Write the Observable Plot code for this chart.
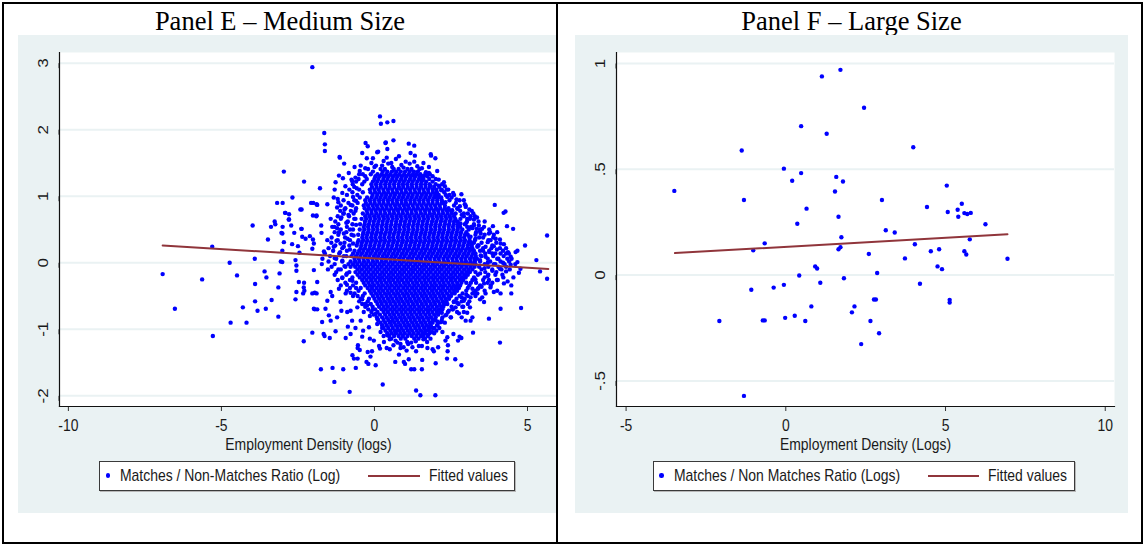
<!DOCTYPE html>
<html>
<head>
<meta charset="utf-8">
<script src="https://cdn.jsdelivr.net/npm/d3@7"></script>
<script src="https://cdn.jsdelivr.net/npm/@observablehq/plot@0.6"></script>
<style>
html,body{margin:0;padding:0;background:#fff;}
#page{position:relative;width:1145px;height:545px;overflow:hidden;background:#fff;}
.frame{position:absolute;left:2px;top:2px;width:1141px;height:542px;box-sizing:border-box;border:2px solid #000;pointer-events:none;z-index:5;}
.divider{position:absolute;left:556px;top:2px;width:2px;height:542px;background:#000;z-index:5;}
.cell{position:absolute;top:4px;height:538px;overflow:hidden;}
.title{position:absolute;top:4.4px;text-align:center;font-family:"Liberation Serif","Times New Roman",serif;font-size:26.5px;line-height:26.5px;color:#000;white-space:nowrap;}
.graph{position:absolute;top:31px;width:553px;height:478px;background:#EAF2F3;}
.graph svg{position:absolute;left:0;top:0;}
.legend{position:absolute;top:425.5px;height:30px;box-sizing:border-box;background:#fff;border:1px solid #3a3a3a;box-shadow:1px 1px 0 #b8b8b8;}
.leg-text{position:absolute;top:5.5px;font-family:"Liberation Sans",Arial,sans-serif;font-size:17px;line-height:17px;color:#1a1a1a;transform:scaleX(0.82);transform-origin:0 50%;white-space:nowrap;}
.leg-dot{position:absolute;width:4.4px;height:4.4px;border-radius:50%;background:#0000FF;top:11.8px;}
.leg-line{position:absolute;height:2px;top:13px;background:#90353B;}
</style>
</head>
<body>
<div id="page">
  <div class="cell" id="cellE" style="left:4px;width:552px;">
    <div class="title" style="left:0;width:552px;">Panel E – Medium Size</div>
    <div class="graph" id="graphE" style="left:14px;"></div>
  </div>
  <div class="cell" id="cellF" style="left:558px;width:583px;">
    <div class="title" style="left:0;width:587px;">Panel F – Large Size</div>
    <div class="graph" id="graphF" style="left:17px;"></div>
  </div>
  <div class="frame"></div>
  <div class="divider"></div>
</div>
<script>
// ---------------- DATA ----------------
// Panel E: dense core, read row by row: [y, x1, x2, ...]
const mediumCoreRows = [
  [1.41, -0.21, 0.2, 0.34, 0.63, 0.79, 1.08, 1.21, 1.47],
  [1.37, -0.05, 0.27, 0.42, 0.57, 0.71, 0.86, 1.0, 1.15, 1.29, 1.42],
  [1.33, -0.38, -0.12, 0.1, 0.24, 0.39, 0.52, 0.68, 0.81, 0.97, 1.12, 1.26, 1.38, 1.5, 1.66, 1.81],
  [1.30, -0.3, 0.03, 0.17, 0.32, 0.46, 0.61, 0.75, 0.9, 1.04, 1.19, 1.33, 1.48, 1.58, 1.72],
  [1.26, -0.52, -0.25, 0.0, 0.13, 0.29, 0.43, 0.58, 0.72, 0.87, 1.01, 1.16, 1.3, 1.45, 1.6, 1.79, 2.0],
  [1.22, -0.6, -0.33, -0.05, 0.09, 0.24, 0.38, 0.53, 0.67, 0.82, 0.96, 1.11, 1.25, 1.4, 1.54, 1.69, 1.9],
  [1.18, -0.71, -0.4, -0.1, 0.05, 0.2, 0.35, 0.49, 0.64, 0.79, 0.93, 1.07, 1.22, 1.37, 1.52, 1.66, 1.8, 2.0, 2.21],
  [1.14, -0.66, -0.08, 0.07, 0.21, 0.36, 0.5, 0.65, 0.8, 0.94, 1.09, 1.23, 1.38, 1.52, 1.67, 1.81, 1.95, 2.12],
  [1.10, -0.82, -0.5, -0.15, 0.0, 0.14, 0.29, 0.44, 0.58, 0.73, 0.87, 1.02, 1.16, 1.31, 1.46, 1.6, 1.75, 1.9, 2.02, 2.2, 2.41],
  [1.06, -0.72, -0.38, -0.13, 0.02, 0.16, 0.31, 0.45, 0.6, 0.74, 0.89, 1.03, 1.18, 1.33, 1.47, 1.62, 1.76, 1.91, 2.04, 2.28],
  [1.02, -0.9, -0.56, -0.06, 0.09, 0.24, 0.38, 0.53, 0.67, 0.82, 0.96, 1.11, 1.25, 1.4, 1.55, 1.69, 1.84, 1.98, 2.1, 2.33, 2.6],
  [0.98, -0.48, -0.24, -0.09, 0.06, 0.2, 0.35, 0.49, 0.64, 0.79, 0.93, 1.08, 1.22, 1.37, 1.51, 1.66, 1.8, 1.95, 2.09, 2.18, 2.52],
  [0.94, -1.01, -0.66, -0.3, -0.15, 0.0, 0.15, 0.29, 0.44, 0.58, 0.73, 0.88, 1.02, 1.17, 1.31, 1.46, 1.6, 1.75, 1.9, 2.05, 2.2, 2.45, 2.78],
  [0.90, -0.85, -0.55, -0.28, -0.13, 0.01, 0.16, 0.3, 0.45, 0.6, 0.74, 0.89, 1.03, 1.18, 1.32, 1.47, 1.61, 1.76, 1.9, 2.05, 2.19, 2.26, 2.66],
  [0.86, -1.1, -0.72, -0.35, -0.21, -0.06, 0.08, 0.23, 0.38, 0.52, 0.67, 0.81, 0.96, 1.1, 1.25, 1.4, 1.54, 1.69, 1.83, 1.98, 2.13, 2.3, 2.6, 2.98],
  [0.82, -0.95, -0.6, -0.32, -0.18, -0.03, 0.11, 0.26, 0.4, 0.55, 0.7, 0.84, 0.99, 1.13, 1.28, 1.42, 1.57, 1.71, 1.86, 2.01, 2.15, 2.3, 2.42, 2.71],
  [0.78, -1.12, -0.77, -0.25, -0.1, 0.04, 0.19, 0.33, 0.48, 0.63, 0.77, 0.92, 1.06, 1.21, 1.35, 1.5, 1.65, 1.79, 1.94, 2.08, 2.23, 2.37, 2.5, 2.8, 3.18],
  [0.74, -1.02, -0.68, -0.38, -0.23, -0.09, 0.06, 0.2, 0.35, 0.5, 0.64, 0.79, 0.93, 1.08, 1.22, 1.37, 1.52, 1.66, 1.81, 1.95, 2.1, 2.24, 2.39, 2.53, 2.65, 3.05],
  [0.70, -1.2, -0.83, -0.3, -0.16, -0.01, 0.13, 0.28, 0.42, 0.57, 0.72, 0.86, 1.01, 1.15, 1.3, 1.44, 1.59, 1.74, 1.88, 2.03, 2.17, 2.32, 2.46, 2.6, 2.92, 3.28],
  [0.66, -1.1, -0.62, -0.42, -0.27, -0.13, 0.02, 0.16, 0.31, 0.45, 0.6, 0.74, 0.89, 1.04, 1.18, 1.33, 1.47, 1.62, 1.76, 1.91, 2.06, 2.2, 2.35, 2.49, 2.64, 2.81, 3.12],
  [0.62, -1.28, -0.87, -0.31, -0.16, -0.02, 0.13, 0.27, 0.42, 0.56, 0.71, 0.86, 1.0, 1.15, 1.29, 1.44, 1.58, 1.73, 1.88, 2.02, 2.17, 2.31, 2.46, 2.6, 2.72, 3.02, 3.4],
  [0.58, -1.18, -0.72, -0.47, -0.32, -0.18, -0.03, 0.11, 0.26, 0.4, 0.55, 0.7, 0.84, 0.99, 1.13, 1.28, 1.42, 1.57, 1.71, 1.86, 2.0, 2.15, 2.3, 2.44, 2.59, 2.73, 2.95, 3.25],
  [0.54, -1.31, -0.9, -0.35, -0.21, -0.06, 0.08, 0.23, 0.38, 0.52, 0.67, 0.81, 0.96, 1.1, 1.25, 1.4, 1.54, 1.69, 1.83, 1.98, 2.12, 2.27, 2.42, 2.56, 2.71, 2.8, 3.15, 3.58],
  [0.50, -1.1, -0.7, -0.48, -0.33, -0.19, -0.04, 0.1, 0.25, 0.4, 0.54, 0.69, 0.83, 0.98, 1.12, 1.27, 1.41, 1.56, 1.7, 1.85, 1.99, 2.14, 2.28, 2.43, 2.58, 2.72, 2.87, 3.08, 3.45],
  [0.46, -1.3, -0.92, -0.36, -0.21, -0.07, 0.08, 0.22, 0.37, 0.51, 0.66, 0.8, 0.95, 1.09, 1.24, 1.38, 1.53, 1.67, 1.82, 1.96, 2.11, 2.25, 2.4, 2.54, 2.69, 2.83, 3.0, 3.32, 3.78],
  [0.42, -1.18, -0.75, -0.53, -0.38, -0.24, -0.09, 0.05, 0.2, 0.34, 0.49, 0.63, 0.78, 0.93, 1.07, 1.22, 1.36, 1.51, 1.65, 1.8, 1.94, 2.09, 2.23, 2.38, 2.52, 2.67, 2.81, 2.96, 3.05, 3.6],
  [0.38, -1.4, -0.96, -0.4, -0.26, -0.11, 0.03, 0.18, 0.32, 0.47, 0.61, 0.76, 0.9, 1.05, 1.19, 1.34, 1.48, 1.63, 1.77, 1.92, 2.06, 2.21, 2.35, 2.5, 2.64, 2.79, 2.93, 3.1, 3.42, 3.88],
  [0.34, -1.2, -0.8, -0.52, -0.37, -0.23, -0.08, 0.06, 0.21, 0.35, 0.5, 0.64, 0.79, 0.93, 1.08, 1.22, 1.37, 1.51, 1.66, 1.8, 1.95, 2.09, 2.24, 2.38, 2.53, 2.67, 2.82, 2.96, 3.11, 3.28, 3.72],
  [0.30, -1.41, -0.98, -0.55, -0.41, -0.26, -0.12, 0.03, 0.17, 0.32, 0.46, 0.61, 0.75, 0.9, 1.04, 1.19, 1.33, 1.48, 1.62, 1.77, 1.91, 2.06, 2.2, 2.35, 2.49, 2.64, 2.78, 2.93, 3.07, 3.15, 3.5, 3.98],
  [0.26, -1.28, -0.82, -0.58, -0.43, -0.29, -0.14, 0.0, 0.15, 0.29, 0.44, 0.58, 0.73, 0.87, 1.02, 1.16, 1.31, 1.45, 1.6, 1.74, 1.89, 2.03, 2.18, 2.32, 2.47, 2.61, 2.76, 2.9, 3.05, 3.18, 3.38, 3.85],
  [0.22, -1.5, -1.05, -0.45, -0.31, -0.16, -0.02, 0.13, 0.27, 0.42, 0.56, 0.71, 0.85, 1.0, 1.14, 1.29, 1.43, 1.58, 1.72, 1.87, 2.01, 2.16, 2.3, 2.45, 2.59, 2.74, 2.88, 3.03, 3.2, 3.55, 3.82, 4.1],
  [0.18, -1.35, -0.9, -0.65, -0.5, -0.36, -0.21, -0.07, 0.08, 0.22, 0.37, 0.51, 0.66, 0.8, 0.95, 1.09, 1.24, 1.38, 1.53, 1.67, 1.82, 1.96, 2.11, 2.25, 2.4, 2.54, 2.69, 2.83, 2.98, 3.12, 3.25, 3.45, 3.75, 4.2],
  [0.14, -1.62, -1.15, -0.7, -0.55, -0.41, -0.26, -0.12, 0.03, 0.17, 0.32, 0.46, 0.61, 0.75, 0.9, 1.04, 1.19, 1.33, 1.48, 1.62, 1.77, 1.91, 2.06, 2.2, 2.35, 2.49, 2.64, 2.78, 2.93, 3.07, 3.22, 3.3, 3.62, 3.95, 4.3],
  [0.10, -1.45, -1.0, -0.75, -0.6, -0.46, -0.31, -0.17, -0.02, 0.12, 0.27, 0.41, 0.56, 0.7, 0.85, 0.99, 1.14, 1.28, 1.43, 1.57, 1.72, 1.86, 2.01, 2.15, 2.3, 2.44, 2.59, 2.73, 2.88, 3.02, 3.17, 3.31, 3.5, 3.88, 4.22],
  [0.06, -1.7, -1.25, -0.65, -0.51, -0.36, -0.22, -0.07, 0.07, 0.22, 0.36, 0.51, 0.65, 0.8, 0.94, 1.09, 1.23, 1.38, 1.52, 1.67, 1.81, 1.96, 2.1, 2.25, 2.39, 2.54, 2.68, 2.83, 2.97, 3.12, 3.26, 3.35, 3.7, 4.05, 4.48],
  [0.02, -1.5, -1.05, -0.78, -0.63, -0.49, -0.34, -0.2, -0.05, 0.09, 0.24, 0.38, 0.53, 0.67, 0.82, 0.96, 1.11, 1.25, 1.4, 1.54, 1.69, 1.83, 1.98, 2.12, 2.27, 2.41, 2.56, 2.7, 2.85, 2.99, 3.14, 3.28, 3.45, 3.78, 4.12, 4.4],
  [-0.02, -1.72, -1.3, -0.85, -0.7, -0.56, -0.41, -0.27, -0.12, 0.02, 0.17, 0.31, 0.46, 0.6, 0.75, 0.89, 1.04, 1.18, 1.33, 1.47, 1.62, 1.76, 1.91, 2.05, 2.2, 2.34, 2.49, 2.63, 2.78, 2.92, 3.07, 3.21, 3.3, 3.6, 3.9, 4.25, 4.6],
  [-0.06, -1.4, -0.95, -0.78, -0.63, -0.49, -0.34, -0.2, -0.05, 0.1, 0.24, 0.39, 0.53, 0.68, 0.82, 0.97, 1.11, 1.26, 1.4, 1.55, 1.69, 1.84, 1.98, 2.13, 2.27, 2.42, 2.56, 2.71, 2.85, 3.0, 3.14, 3.27, 3.42, 3.72, 4.05, 4.3],
  [-0.10, -1.52, -1.1, -0.55, -0.41, -0.26, -0.12, 0.03, 0.17, 0.32, 0.46, 0.61, 0.75, 0.9, 1.04, 1.19, 1.33, 1.48, 1.62, 1.77, 1.91, 2.06, 2.2, 2.35, 2.49, 2.64, 2.78, 2.93, 3.07, 3.2, 3.5, 3.85, 4.15, 4.42],
  [-0.14, -1.25, -0.82, -0.62, -0.48, -0.33, -0.19, -0.04, 0.1, 0.25, 0.39, 0.54, 0.68, 0.83, 0.97, 1.12, 1.26, 1.41, 1.55, 1.7, 1.84, 1.99, 2.13, 2.28, 2.42, 2.57, 2.71, 2.86, 3.0, 3.12, 3.3, 3.62, 3.98],
  [-0.18, -1.3, -0.92, -0.55, -0.4, -0.26, -0.11, 0.03, 0.18, 0.32, 0.47, 0.61, 0.76, 0.9, 1.05, 1.19, 1.34, 1.48, 1.63, 1.77, 1.92, 2.06, 2.21, 2.35, 2.5, 2.64, 2.79, 2.93, 3.05, 3.38, 3.72, 4.18],
  [-0.22, -1.05, -0.72, -0.48, -0.33, -0.18, -0.04, 0.11, 0.25, 0.4, 0.54, 0.69, 0.83, 0.98, 1.12, 1.27, 1.41, 1.56, 1.7, 1.85, 1.99, 2.14, 2.28, 2.43, 2.57, 2.72, 2.86, 2.98, 3.25, 3.6],
  [-0.26, -1.2, -0.8, -0.4, -0.26, -0.11, 0.03, 0.18, 0.32, 0.47, 0.61, 0.76, 0.9, 1.05, 1.19, 1.34, 1.48, 1.63, 1.77, 1.92, 2.06, 2.21, 2.35, 2.5, 2.64, 2.79, 2.9, 3.2, 3.55, 4.0],
  [-0.30, -0.95, -0.6, -0.35, -0.2, -0.06, 0.09, 0.23, 0.38, 0.52, 0.67, 0.81, 0.96, 1.1, 1.25, 1.39, 1.54, 1.68, 1.83, 1.97, 2.12, 2.26, 2.41, 2.55, 2.7, 2.84, 3.0, 3.32, 3.7],
  [-0.34, -1.1, -0.7, -0.3, -0.15, -0.01, 0.14, 0.28, 0.43, 0.57, 0.72, 0.86, 1.01, 1.15, 1.3, 1.44, 1.59, 1.73, 1.88, 2.02, 2.17, 2.31, 2.46, 2.6, 2.72, 2.8, 3.1, 3.45, 3.8],
  [-0.38, -0.8, -0.45, -0.22, -0.08, 0.07, 0.21, 0.36, 0.5, 0.65, 0.79, 0.94, 1.08, 1.23, 1.37, 1.52, 1.66, 1.81, 1.95, 2.1, 2.24, 2.39, 2.53, 2.66, 2.76, 3.05, 3.4],
  [-0.42, -0.9, -0.52, -0.15, -0.01, 0.14, 0.28, 0.43, 0.57, 0.72, 0.86, 1.01, 1.15, 1.3, 1.44, 1.59, 1.73, 1.88, 2.02, 2.17, 2.31, 2.46, 2.6, 2.7, 3.0, 3.3, 3.6],
  [-0.46, -0.65, -0.32, -0.1, 0.05, 0.19, 0.34, 0.48, 0.63, 0.77, 0.92, 1.06, 1.21, 1.35, 1.5, 1.64, 1.79, 1.93, 2.08, 2.22, 2.37, 2.52, 2.62, 2.88, 3.2],
  [-0.50, -0.7, -0.38, -0.05, 0.1, 0.24, 0.39, 0.53, 0.68, 0.82, 0.97, 1.11, 1.26, 1.4, 1.55, 1.69, 1.84, 1.98, 2.13, 2.27, 2.42, 2.5, 2.78, 3.05, 3.3],
  [-0.54, -0.45, -0.18, 0.0, 0.15, 0.29, 0.44, 0.58, 0.73, 0.87, 1.02, 1.16, 1.31, 1.45, 1.6, 1.74, 1.89, 2.03, 2.18, 2.32, 2.44, 2.68, 2.95],
  [-0.58, -0.5, -0.22, 0.05, 0.2, 0.34, 0.49, 0.63, 0.78, 0.92, 1.07, 1.21, 1.36, 1.5, 1.65, 1.79, 1.94, 2.08, 2.23, 2.35, 2.6, 2.85, 3.1],
  [-0.62, -0.4, -0.12, 0.1, 0.24, 0.39, 0.53, 0.68, 0.82, 0.97, 1.11, 1.26, 1.4, 1.55, 1.69, 1.84, 1.98, 2.13, 2.27, 2.38, 2.75],
  [-0.66, -0.3, -0.06, 0.15, 0.3, 0.44, 0.59, 0.73, 0.88, 1.02, 1.17, 1.31, 1.46, 1.6, 1.75, 1.89, 2.04, 2.18, 2.25, 2.52, 2.9],
  [-0.70, -0.2, 0.02, 0.23, 0.37, 0.52, 0.66, 0.81, 0.95, 1.1, 1.24, 1.39, 1.53, 1.68, 1.82, 1.97, 2.11, 2.22, 2.56],
  [-0.74, -0.1, 0.1, 0.3, 0.44, 0.59, 0.73, 0.88, 1.02, 1.17, 1.31, 1.46, 1.6, 1.75, 1.89, 2.04, 2.15, 2.4, 2.7],
  [-0.78, -0.02, 0.18, 0.35, 0.5, 0.64, 0.79, 0.93, 1.08, 1.22, 1.37, 1.51, 1.66, 1.8, 1.95, 2.08, 2.35],
  [-0.82, 0.08, 0.25, 0.4, 0.55, 0.69, 0.84, 0.98, 1.13, 1.27, 1.42, 1.56, 1.71, 1.85, 2.0, 2.22, 2.5],
  [-0.86, 0.12, 0.3, 0.45, 0.6, 0.74, 0.89, 1.03, 1.18, 1.32, 1.47, 1.61, 1.76, 1.9, 1.98, 2.2],
  [-0.90, 0.2, 0.35, 0.5, 0.65, 0.79, 0.94, 1.08, 1.23, 1.37, 1.52, 1.66, 1.81, 1.9, 2.1, 2.3],
  [-0.94, 0.25, 0.4, 0.55, 0.7, 0.84, 0.99, 1.13, 1.28, 1.42, 1.57, 1.71, 1.84, 2.05],
  [-0.98, 0.3, 0.45, 0.6, 0.75, 0.89, 1.04, 1.18, 1.33, 1.47, 1.62, 1.76, 1.8, 1.96, 2.12],
  [-1.02, 0.36, 0.52, 0.66, 0.8, 0.94, 1.09, 1.23, 1.38, 1.52, 1.66, 1.78, 2.02],
  [-1.06, 0.42, 0.56, 0.7, 0.85, 0.99, 1.14, 1.28, 1.43, 1.57, 1.65, 1.8, 1.95],
  [-1.10, 0.48, 0.64, 0.79, 0.93, 1.08, 1.22, 1.37, 1.52, 1.6, 1.74],
  [-1.14, 0.55, 0.86, 1.01, 1.3, 1.44, 1.65]
];

// Panel E: half-dense band around the core, [x, y]
const mediumFringe = [
  [-0.62,1.28],[-0.95,1.15],[-0.58,1.12],[-1.05,1.05],[-0.7,0.99],[-0.6,0.93],[-1.18,0.91],[-0.78,0.87],
  [-0.98,0.8],[-0.62,0.78],[-0.85,0.72],[-1.08,0.68],[-0.66,0.66],[-0.92,0.6],[-0.6,0.57],[-1.22,0.52],
  [-0.8,0.5],[-1.0,0.44],[-0.68,0.41],[-0.88,0.36],[-1.24,0.33],[-0.7,0.29],[-1.0,0.24],[-0.8,0.2],
  [-1.12,0.16],[-0.92,0.1],[-1.3,0.07],[-1.05,0.03],[-0.98,-0.05],[-1.18,-0.1],[-0.9,-0.16],[-1.05,-0.23],
  [-0.72,-0.27],[-0.9,-0.33],[-0.6,-0.38],[-0.78,-0.45],[-0.55,-0.5],[-0.4,-0.55],[-0.3,-0.62],
  [2.95,0.88],[3.1,0.8],[2.85,0.72],[3.35,0.68],[3.0,0.6],[3.6,0.62],[3.2,0.52],[3.75,0.5],
  [3.45,0.47],[3.3,0.42],[3.9,0.42],[3.55,0.38],[3.25,0.3],[3.7,0.31],[4.1,0.35],[3.4,0.26],
  [3.9,0.25],[4.3,0.22],[3.55,0.18],[3.75,0.16],[4.0,0.2],[3.45,0.04],[3.7,0.0],[3.95,-0.02],
  [4.2,0.0],[4.45,-0.03],[3.6,-0.08],[3.85,-0.12],[4.1,-0.09],[4.3,-0.13],[3.45,-0.16],[3.7,-0.2],
  [3.95,-0.18],[4.35,-0.28],[3.3,-0.25],[3.5,-0.36],[3.85,-0.3],[3.15,-0.3],[3.25,-0.45],[3.0,-0.48],
  [3.45,-0.55],[2.85,-0.52],[2.7,-0.6],[3.05,-0.62],[2.55,-0.7],[2.85,-0.82],
  [0.0,1.44],[0.25,1.46],[0.55,1.5],[0.95,1.43],[1.15,1.49],[1.3,1.52],[1.55,1.42],[1.68,1.36],
  [1.9,1.3],[2.1,1.25],[-0.3,1.42],[-0.5,1.33],[-0.75,1.25],[0.4,1.58],[0.8,1.6],[1.6,1.5],
  [2.05,1.38],[2.3,1.15],[2.45,1.02],
  [0.3,-1.1],[0.5,-1.15],[0.25,-0.98],[0.1,-0.85],[-0.05,-0.7],[-0.15,-0.8],[1.75,-1.08],[1.9,-0.98],
  [2.05,-0.88],[2.2,-0.75],[2.3,-0.62],[1.2,-1.2],[0.85,-1.28],[1.45,-1.25],[1.6,-1.15],[0.4,-1.28]
];

// Panel E: scattered points outside the core, [x, y]
const mediumScatter = [
  [-6.92,-0.17],[-6.52,-0.69],[-5.63,-0.25],[-5.30,0.24],[-5.28,-1.10],[-4.73,0.00],[-4.70,-0.90],[-4.49,-0.19],
  [-4.30,-0.67],[-4.18,-0.90],[-3.98,0.56],[-3.91,0.06],[-3.90,-0.32],[-3.90,-0.58],[-3.82,-0.72],[-3.59,-0.13],
  [-3.53,-0.22],[-3.55,-0.69],[-3.48,0.35],[-3.38,0.54],[-3.36,-0.56],[-3.26,0.62],[-3.24,0.58],[-3.18,0.90],
  [-3.00,0.90],[-3.14,-0.81],[-3.14,-0.37],[-3.10,-0.16],[-3.06,0.02],[-3.01,0.18],[-2.96,1.37],[-2.92,0.75],
  [-2.79,0.73],[-2.79,0.65],[-3.00,0.54],[-3.04,0.45],[-2.68,0.98],[-2.58,-0.55],[-2.55,-0.04],[-2.45,0.15],
  [-2.42,0.80],[-2.38,0.51],[-2.36,0.39],[-2.31,-1.18],[-2.30,1.22],[-2.30,-0.30],[-2.29,-0.42],[-2.07,0.90],
  [-2.03,2.94],[-2.03,-1.05],[-2.01,0.71],[-2.01,0.35],[-1.95,-0.45],[-1.95,-0.70],[-1.89,0.88],[-1.89,0.71],
  [-1.78,1.12],[-1.75,-1.60],[-1.64,1.95],[-1.62,1.78],[-1.62,1.68],[-1.66,-1.07],[-1.37,-1.58],[-1.31,-1.79],
  [-1.02,-1.60],[-0.81,-1.94],[0.27,-1.83],[1.36,-1.92],[1.50,-1.99],[1.99,-1.99],[0.18,2.20],[0.21,2.09],
  [0.42,2.11],[0.62,2.13],[-0.29,1.80],[-0.22,1.75],[0.36,1.80],[0.42,1.71],[0.62,1.84],[1.12,1.79],
  [1.30,1.76],[1.18,1.65],[1.32,1.61],[1.85,1.61],[1.99,1.57],[-1.13,1.58],[-0.99,1.49],[-0.40,1.65],
  [-0.05,1.57],[0.09,1.66],[3.93,0.87],[4.22,0.75],[4.28,0.77],[4.53,0.51],[4.33,0.55],[4.92,0.26],
  [5.64,0.41],[5.29,0.04],[5.41,-0.13],[5.64,-0.24],[4.79,-0.68],[4.10,-1.20],[4.12,-0.69],[3.74,-0.84],
  [3.22,-1.05],[2.84,-1.54],[2.64,-1.45],[2.37,-1.44],[2.39,-1.33],[2.78,-1.11],[2.84,-1.13],[2.58,-1.07],
  [2.08,-1.27],[1.90,-1.30],[1.73,-1.28],[1.55,-1.60],[1.30,-1.60],[1.20,-1.60],[1.00,-1.52],[0.68,-1.49],
  [1.12,-1.45],[1.36,-1.33],[0.04,-1.54],[-0.20,-1.52],[-0.26,-1.49],[-0.55,-1.44],[-0.61,-1.58],[-0.72,-1.39],
  [-0.67,-1.44],[0.15,-1.25],[0.50,-1.30],[-0.08,-1.33],[-0.55,-1.28],
  [-1.14,1.59],[0.12,1.67],[0.37,1.81],[-0.45,1.46],[-0.25,1.57],[-0.65,1.44],[-0.84,1.35],[-1.03,1.27],
  [-1.16,1.31],[-0.73,1.23],[-0.48,1.38],[-1.27,1.21],[-1.30,1.10],[-1.33,0.98],[-2.00,0.90],[-1.87,0.87],
  [-2.38,0.80],[-1.54,0.88],[-1.22,0.83],[-2.91,0.75],[-2.80,0.65],[-1.90,0.70],[-2.72,0.56],[-2.39,0.51],
  [-2.62,0.45],[-2.11,0.40],[-1.74,0.56],[-1.43,0.66],[-1.38,0.54],[-1.73,0.45],[-2.25,0.36],[-2.50,0.25],
  [-3.01,0.44],[-2.96,0.31],[-2.69,0.28],[-2.03,0.21],[-1.65,0.17],[-1.98,0.29],[-1.54,0.34],[-1.11,0.29],
  [-1.33,0.24],[-1.16,0.46],[-0.89,0.61],[-1.00,0.74],[-1.20,0.96],
  [-3.01,0.01],[-2.55,-0.12],[-2.47,-0.29],[-2.31,-0.37],[-2.55,-0.44],[-2.33,-0.46],[-2.03,-0.46],[-1.89,-0.46],
  [-1.98,-0.69],[-1.87,-0.70],[-1.71,-0.89],[-1.63,-1.10],[-1.46,-1.13],[-1.27,-1.03],[-0.94,-1.13],[-0.78,-1.07],
  [-0.62,-0.98],[-0.87,-0.96],[-0.54,-1.24],[-0.48,-1.31],[-0.13,-1.41],[-0.22,-1.34],[0.18,-1.29],[0.80,-1.38],
  [0.96,-1.49],[1.05,-1.32],[-0.15,-1.14],[-0.40,-1.11],[-0.02,-1.17],[0.31,-1.19],[0.42,-1.09],[0.69,-1.04],
  [0.85,-1.22],[-1.98,-0.11],[-1.87,-0.29],[-2.58,0.04],[-1.43,-0.44],[-1.38,-0.50],[-1.54,-0.57],[-1.60,-0.69],
  [-1.49,-0.79],[-1.43,-0.87],[-1.22,-0.82],[-1.08,-0.72],[-1.11,-0.59],[-0.94,-0.46],[-1.16,-0.39],[-0.89,-0.74],
  [-0.73,-0.87],[-0.78,-0.72],[-0.45,-0.87],[-0.37,-1.02],[-0.18,-0.97],[-0.35,-0.74],[-0.56,-0.67],[-0.24,-0.64],
  [0.04,-0.77],[0.09,-0.92],[0.20,-1.04],[0.53,-0.89],[0.69,-1.17],[1.07,-1.19],[1.24,-1.27],
  [2.73,-1.17],[2.40,-1.24],[2.38,-1.12],[1.94,-1.33],[2.00,-1.51],[1.56,-1.46],
  [3.14,-0.87],[2.98,-0.87],[3.20,-0.82],[3.03,-0.75],[3.12,-0.67],[2.92,-0.74],[2.76,-0.76],[2.65,-0.67],
  [2.87,-0.66],[3.58,-0.59],[3.52,-0.52],[3.36,-0.46],[3.63,-0.46],[4.01,-0.42],[4.12,-0.46],[4.47,-0.46],
  [4.47,-0.34],[4.23,-0.31],[4.21,-0.22],[4.03,-0.26],[4.54,-0.22],[4.72,-0.15],[4.77,-0.09],[4.67,0.01],
  [4.45,0.09],[4.36,0.16],[4.61,0.16],[3.90,-0.44],[3.79,-0.37],[3.74,-0.26],[3.58,-0.31],[3.38,-0.39],
  [3.20,-0.39],[3.14,-0.52],[2.92,-0.57],[2.59,-0.59],[2.43,-0.72],[2.49,-0.82],[2.32,-0.79],[2.18,-0.89],
  [2.05,-0.94],[1.89,-1.04],[1.83,-1.14],[1.67,-1.02],[2.22,-1.04],[2.32,-1.17],[1.72,-1.19],
  [1.84,1.63],[1.78,1.44],[1.78,1.35],[1.56,1.28],[1.56,1.24],[1.83,1.16],[2.10,1.16],[2.27,1.21],
  [2.18,1.09],[2.36,1.10],[2.57,1.05],[2.84,1.03],[2.68,0.95],[2.79,0.85],[2.98,0.84],[3.23,0.74],
  [3.14,0.70],[3.03,0.66],[3.25,0.65],[3.87,0.55],[4.67,0.18],[4.39,0.14],[4.23,0.28],[4.12,0.29],
  [3.96,0.36],[4.01,0.46],[3.74,0.44],[3.79,0.34],[3.63,0.24],[3.52,0.51],[3.47,0.44],[3.34,0.51],
  [3.41,0.56],[3.25,0.56],[2.92,0.94],[2.71,0.81],[2.54,0.79],[2.92,0.74],[2.81,0.59],[3.03,0.54],
  [3.14,0.39],[3.30,0.36],[3.36,0.24],[3.14,0.21],[3.85,0.14],[4.12,0.14],[4.01,0.06],[4.34,0.06],
  [3.63,0.09],[3.47,0.11],[2.32,0.91],[2.38,0.99],[2.00,0.99],
  [0.05,1.46],[0.45,1.49],[0.88,1.47],[1.02,1.52],[0.3,1.53],[0.7,1.56],[1.4,1.45],[-0.1,1.5],[0.58,1.44],
  [0.75,-1.2],[1.1,-1.22],[1.35,-1.18],[0.62,-1.24],[1.55,-1.25],[0.95,-1.27]
];

// Panel E fitted values (end points of the fitted line)
const mediumFit = [[-6.92, 0.26], [5.68, -0.094]];

// Panel F points, [x, y]
const largePoints = [
  [-3.49,0.398],[-2.08,-0.217],[-1.38,0.589],[-1.31,0.355],[-1.31,-0.571],[-1.08,-0.069],[-1.02,0.117],[-0.72,-0.214],
  [-0.66,-0.214],[-0.66,0.150],[-0.38,-0.059],[-0.06,0.503],[-0.06,-0.046],[-0.02,-0.202],[0.20,0.446],[0.28,-0.192],
  [0.36,0.243],[0.42,-0.002],[0.48,0.704],[0.48,0.482],[0.61,-0.217],[0.65,0.314],[0.80,-0.148],[0.92,0.041],
  [0.98,0.031],[1.08,-0.036],[1.13,0.939],[1.28,0.668],[1.54,0.395],[1.58,0.464],[1.65,0.276],[1.65,0.122],
  [1.71,0.132],[1.71,0.970],[1.74,0.179],[1.79,0.442],[1.82,-0.015],[2.07,-0.176],[2.15,-0.148],[2.36,-0.326],
  [2.45,0.791],[2.60,0.100],[2.65,-0.217],[2.76,-0.115],[2.82,-0.115],[2.86,0.010],[2.92,-0.275],[3.01,0.355],
  [3.13,0.212],[3.41,0.201],[3.73,0.079],[3.99,0.604],[4.04,0.146],[4.20,-0.041],[4.42,0.322],[4.54,0.113],
  [4.75,0.041],[4.80,0.122],[4.89,0.028],[5.04,0.423],[5.07,0.298],[5.13,-0.117],[5.13,-0.130],[5.38,0.309],
  [5.40,0.276],[5.51,0.337],[5.59,0.293],[5.68,0.289],[5.79,0.294],[5.59,0.113],[5.65,0.097],[5.76,0.169],
  [6.25,0.240],[6.94,0.077]
];

// Panel F fitted values
const largeFit = [[-3.47, 0.104], [6.94, 0.193]];

// Axes
const mediumXTicks = [-10, -5, 0, 5];
const mediumYTicks = [-2, -1, 0, 1, 2, 3];
const largeXTicks = [-5, 0, 5, 10];
const largeYTicks = [-0.5, 0, 0.5, 1];
const mediumXDomain = [-10.29, 5.98];
const mediumYDomain = [-2.16, 3.16];
const largeXDomain = [-5.3, 10.29];
const largeYDomain = [-0.621, 1.052];

const labelsE = {x: "Employment Density (logs)", dots: "Matches / Non-Matches Ratio (Log)", fit: "Fitted values"};
const labelsF = {x: "Employment Density (Logs)", dots: "Matches / Non Matches Ratio (Logs)", fit: "Fitted values"};

// ---------------- BUILD ----------------
const mediumPoints = mediumCoreRows
  .flatMap(([y, ...xs]) => xs.map(x => ({x, y})))
  .concat(mediumFringe.map(([x, y]) => ({x, y})))
  .concat(mediumScatter.map(([x, y]) => ({x, y})));
const largeData = largePoints.map(([x, y]) => ({x, y}));
const toXY = arr => arr.map(([x, y]) => ({x, y}));

const statFmt = d => String(d).replace(/^(-?)0\./, "$1.");

function narrowText(svg) {
  const apply = (sel, sc) => svg.querySelectorAll(sel).forEach(t => {
    const tr = t.getAttribute("transform");
    if (tr) t.setAttribute("transform", tr + " " + sc);
    else {
      const x = +t.getAttribute("x") || 0, y = +t.getAttribute("y") || 0;
      t.setAttribute("transform", `translate(${x},${y}) ${sc} translate(${-x},${-y})`);
    }
  });
  apply('[aria-label="x-axis tick label"] text', "scale(0.82,1)");
  apply('[aria-label="x-axis label"] text', "scale(0.82,1)");
  apply('[aria-label="y-axis tick label"] text', "scale(1,0.82)");
}

function makePanel({points, fit, xDomain, yDomain, xTicks, yTicks, xLabel}) {
  const svg = Plot.plot({
    width: 553,
    height: 420,
    marginLeft: 41,
    marginRight: 14,
    marginTop: 17,
    marginBottom: 49,
    style: {background: "transparent", fontFamily: "'Liberation Sans', Arial, sans-serif", fontSize: "17px", color: "#1a1a1a"},
    x: {domain: xDomain},
    y: {domain: yDomain},
    marks: [
      Plot.frame({fill: "white", stroke: "none"}),
      Plot.gridY(yTicks, {stroke: "#EAF2F3", strokeOpacity: 1, strokeWidth: 2}),
      Plot.dot(points, {x: "x", y: "y", r: 2.2, fill: "#0000FF", stroke: "none"}),
      Plot.line(fit, {x: "x", y: "y", stroke: "#90353B", strokeWidth: 2}),
      Plot.axisX({ticks: xTicks, tickFormat: statFmt, tickSize: 5, tickPadding: 7, stroke: "#333",
        label: xLabel, labelAnchor: "center", labelArrow: "none", labelOffset: 43.5}),
      Plot.axisY({ticks: yTicks, tickFormat: statFmt, tickSize: 5, tickPadding: 7, stroke: "#333",
        rotate: -90, textAnchor: "middle", lineAnchor: "bottom", label: null}),
      Plot.frame({anchor: "left", stroke: "#111", strokeWidth: 1.2}),
      Plot.frame({anchor: "bottom", stroke: "#111", strokeWidth: 1.2})
    ]
  });
  narrowText(svg);
  return svg;
}

function makeLegend(graph, labels, box) {
  const lg = document.createElement("div");
  lg.className = "legend";
  lg.style.left = box.left + "px";
  lg.style.width = box.width + "px";
  lg.innerHTML =
    `<div class="leg-dot" style="left:${box.dot - 2.2}px"></div>` +
    `<div class="leg-text" style="left:${box.text1}px">${labels.dots}</div>` +
    `<div class="leg-line" style="left:${box.line}px;width:${box.lineW}px"></div>` +
    `<div class="leg-text" style="left:${box.text2}px">${labels.fit}</div>`;
  graph.appendChild(lg);
}

const gE = document.getElementById("graphE");
gE.appendChild(makePanel({points: mediumPoints, fit: toXY(mediumFit), xDomain: mediumXDomain, yDomain: mediumYDomain,
  xTicks: mediumXTicks, yTicks: mediumYTicks, xLabel: labelsE.x}));
makeLegend(gE, labelsE, {left: 81, width: 416, dot: 8, text1: 20, line: 268, lineW: 52, text2: 328.6});

const gF = document.getElementById("graphF");
gF.appendChild(makePanel({points: largeData, fit: toXY(largeFit), xDomain: largeXDomain, yDomain: largeYDomain,
  xTicks: largeXTicks, yTicks: largeYTicks, xLabel: labelsF.x}));
makeLegend(gF, labelsF, {left: 78, width: 422, dot: 7.5, text1: 20, line: 273.5, lineW: 51.5, text2: 334});
</script>
</body>
</html>
